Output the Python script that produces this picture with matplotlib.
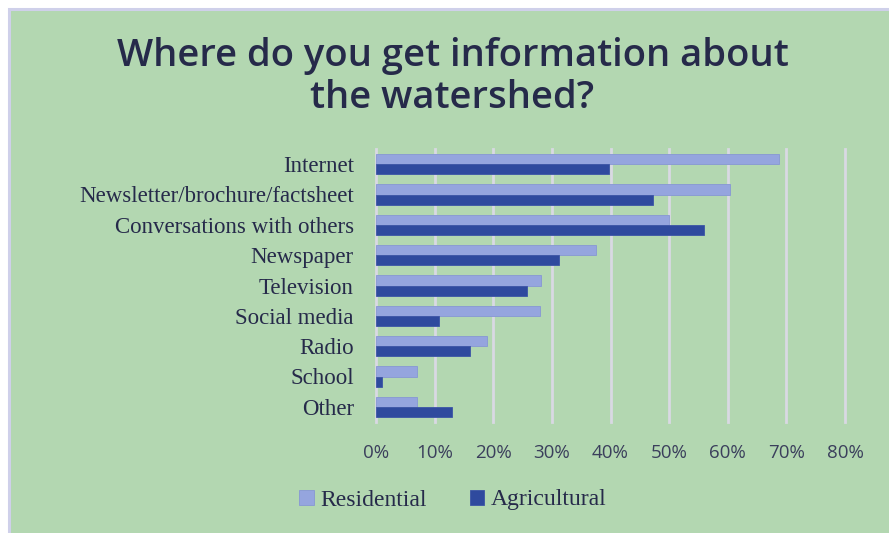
import matplotlib.pyplot as plt
from matplotlib.patches import Rectangle
import numpy as np

categories = ['Internet', 'Newsletter/brochure/factsheet', 'Conversations with others',
              'Newspaper', 'Television', 'Social media', 'Radio', 'School', 'Other']
residential = [68.7, 60.3, 49.9, 37.5, 28.2, 27.9, 19.0, 7.0, 7.0]
agricultural = [39.8, 47.3, 55.9, 31.3, 25.8, 10.8, 16.0, 1.0, 13.0]
xticks = [0, 10, 20, 30, 40, 50, 60, 70, 80]

green = '#b3d7b1'
res_color = '#95a5de'
ag_color = '#2f4a9e'
text_color = '#262a4a'

W, H = 889, 533
fig = plt.figure(figsize=(W / 100, H / 100), dpi=100)
fig.patch.set_facecolor('white')

# green panel with lavender border on left/top
fig.patches.append(Rectangle((9 / W, -0.05), 1.1, 1 - 9 / H + 0.05,
                             transform=fig.transFigure, facecolor=green,
                             edgecolor='#cfd0ea', linewidth=2.2, zorder=-10))

ax = fig.add_axes([376 / W, 1 - 422 / H, (845 - 376) / W, (422 - 149) / H])
ax.set_facecolor('none')
ax.set_zorder(1)

y = np.arange(len(categories))
h = 0.335
ax.barh(y - h / 2, residential, height=h, color=res_color, edgecolor='#8797d4',
        linewidth=0.6, label='Residential', zorder=3)
ax.barh(y + h / 2, agricultural, height=h, color=ag_color, edgecolor='#3c55a6',
        linewidth=0.6, label='Agricultural', zorder=3)

ax.set_xlim(0, 80)
ax.set_ylim(len(categories) - 0.5, -0.5)
ax.set_xticks(xticks)
ax.set_xticklabels(['%d%%' % v for v in xticks], fontsize=13.5, color='#3b3f5c',
                   family=['Open Sans', 'DejaVu Sans'])
ax.set_yticks(y)
ax.set_yticklabels(categories, fontsize=16.5, color=text_color,
                   family=['Liberation Serif', 'DejaVu Serif'])
ax.tick_params(length=0)
ax.tick_params(axis='y', pad=16)
ax.tick_params(axis='x', pad=16)
ax.grid(axis='x', color='#d9d9e3', linewidth=2, zorder=1)
for gl in ax.get_xgridlines():
    gl.set_clip_on(False)
for s in ax.spines.values():
    s.set_visible(False)

fig.text(0.509, 1 - 77 / H, 'Where do you get information about\nthe watershed?',
         ha='center', va='center', fontsize=27.5, fontweight='semibold', color=text_color,
         linespacing=1.17, family=['Open Sans', 'DejaVu Sans'])

leg = ax.legend(loc='center', bbox_to_anchor=(453 / W, 1 - 500 / H),
                bbox_transform=fig.transFigure, ncol=2, frameon=False,
                prop={'family': ['Liberation Serif', 'DejaVu Serif'], 'size': 17},
                handlelength=0.6, handleheight=0.6, handletextpad=0.3, columnspacing=1.8)
for t in leg.get_texts():
    t.set_color(text_color)

fig.savefig('out.png', dpi=100, facecolor=fig.get_facecolor())
